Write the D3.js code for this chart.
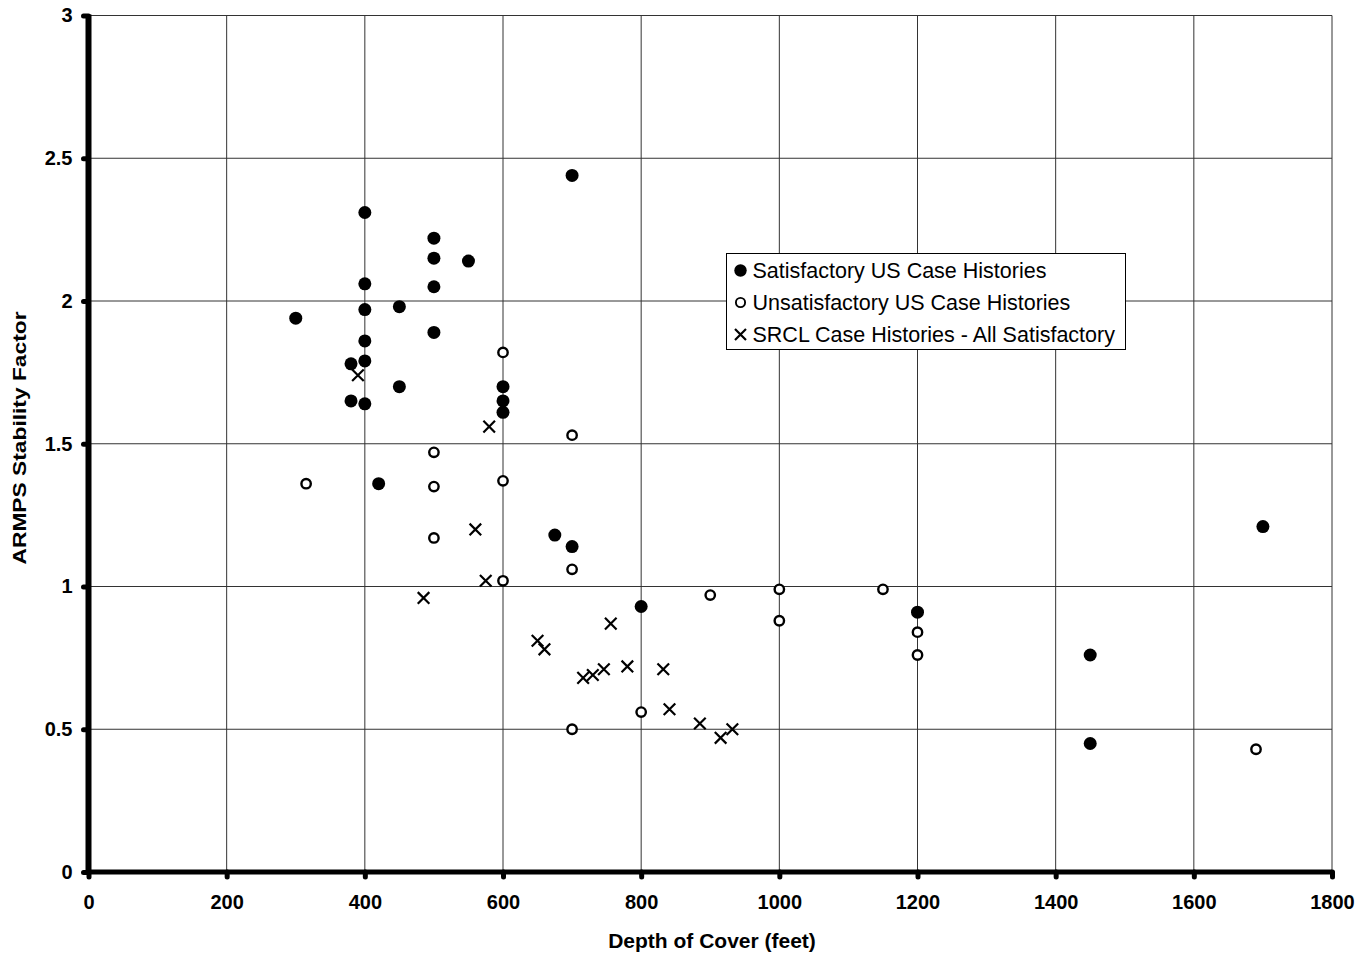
<!DOCTYPE html>
<html>
<head>
<meta charset="utf-8">
<script src="https://cdn.jsdelivr.net/npm/d3@7"></script>
<style>
  body { margin: 0; background: #fff; }
  text { font-family: "Liberation Sans", Arial, sans-serif; }
</style>
</head>
<body>
<script>
// depth of cover (ft) and ARMPS stability factor
const satDepth = [300, 380, 380, 400, 400, 400, 400, 400, 400, 420, 450, 450, 500, 500, 500, 500, 550, 600, 600, 600, 675, 700, 700, 800, 1200, 1450, 1450, 1700]
const satSF = [1.94, 1.78, 1.65, 2.31, 2.06, 1.97, 1.86, 1.79, 1.64, 1.36, 1.98, 1.70, 2.22, 2.15, 2.05, 1.89, 2.14, 1.70, 1.65, 1.61, 1.18, 2.44, 1.14, 0.93, 0.91, 0.76, 0.45, 1.21]

const unsatDepth = [315, 500, 500, 500, 600, 600, 600, 700, 700, 700, 800, 900, 1000, 1000, 1150, 1200, 1200, 1690]
const unsatSF = [1.36, 1.47, 1.35, 1.17, 1.82, 1.37, 1.02, 1.53, 1.06, 0.50, 0.56, 0.97, 0.99, 0.88, 0.99, 0.84, 0.76, 0.43]

const srclDepth = [390, 485, 560, 575, 580, 650, 660, 716, 730, 746, 756, 780, 832, 841, 885, 915, 932]
const srclSF = [1.74, 0.96, 1.20, 1.02, 1.56, 0.81, 0.78, 0.68, 0.69, 0.71, 0.87, 0.72, 0.71, 0.57, 0.52, 0.47, 0.50]

const xTicks = [0, 200, 400, 600, 800, 1000, 1200, 1400, 1600, 1800]
const yTicks = [0, 0.5, 1, 1.5, 2, 2.5, 3]
const legendLabels = ['Satisfactory US Case Histories', 'Unsatisfactory US Case Histories', 'SRCL Case Histories - All Satisfactory']

const width = 1369
const height = 957
const margin = { left: 88.5, right: 37, top: 15.5, bottom: 85 }

const svg = d3.select('body').append('svg')
  .attr('width', width)
  .attr('height', height)

const x = d3.scaleLinear().domain([0, 1800]).range([margin.left, width - margin.right])
const y = d3.scaleLinear().domain([0, 3]).range([height - margin.bottom, margin.top])

// grid
svg.append('g')
  .selectAll('line')
  .data(xTicks.slice(1))
  .join('line')
    .attr('x1', d => x(d)).attr('x2', d => x(d))
    .attr('y1', y(0)).attr('y2', y(3))
    .style('stroke', '#333')
    .style('stroke-width', 1)

svg.append('g')
  .selectAll('line')
  .data(yTicks.slice(1))
  .join('line')
    .attr('x1', x(0)).attr('x2', x(1800))
    .attr('y1', d => y(d)).attr('y2', d => y(d))
    .style('stroke', '#333')
    .style('stroke-width', 1)

// axes
const xAxis = svg.append('g')
  .attr('transform', `translate(0, ${y(0)})`)
  .call(d3.axisBottom(x).tickValues(xTicks).tickSize(5).tickPadding(18).tickFormat(d3.format('d')))
xAxis.select('.domain').remove()
xAxis.selectAll('line').style('stroke', '#000').style('stroke-width', 5).style('stroke-linecap', 'round')
xAxis.selectAll('text')
  .style('font-size', '20px').style('font-weight', 'bold').style('fill', '#000')

const yAxis = svg.append('g')
  .attr('transform', `translate(${x(0)}, 0)`)
  .call(d3.axisLeft(y).tickValues(yTicks).tickSize(5).tickPadding(11).tickFormat(d => d))
yAxis.select('.domain').remove()
yAxis.selectAll('line').style('stroke', '#000').style('stroke-width', 5).style('stroke-linecap', 'round')
yAxis.selectAll('text')
  .style('font-size', '20px').style('font-weight', 'bold').style('fill', '#000')

svg.append('line')
  .attr('x1', x(0)).attr('x2', x(1800))
  .attr('y1', y(0)).attr('y2', y(0))
  .style('stroke', '#000').style('stroke-width', 5)
svg.append('line')
  .attr('x1', x(0)).attr('x2', x(0))
  .attr('y1', y(0) + 2).attr('y2', y(3) - 1)
  .style('stroke', '#000').style('stroke-width', 6)

// axis titles
svg.append('text')
  .attr('x', 712)
  .attr('y', 948)
  .attr('text-anchor', 'middle')
  .style('font-size', '21px').style('font-weight', 'bold')
  .text('Depth of Cover (feet)')

svg.append('text')
  .attr('transform', 'translate(25.5, 438) rotate(-90)')
  .attr('text-anchor', 'middle')
  .attr('textLength', 253)
  .attr('lengthAdjust', 'spacingAndGlyphs')
  .style('font-size', '19px').style('font-weight', 'bold')
  .text('ARMPS Stability Factor')

// markers
const cross = (g, size) => g.append('path')
  .attr('d', `M${-size},${-size}L${size},${size}M${-size},${size}L${size},${-size}`)
  .style('stroke', '#000').style('stroke-width', 2.2).style('fill', 'none')

svg.append('g')
  .selectAll('circle')
  .data(unsatDepth.map((d, i) => [d, unsatSF[i]]))
  .join('circle')
    .attr('cx', d => x(d[0]))
    .attr('cy', d => y(d[1]))
    .attr('r', 4.7)
    .style('fill', '#fff').style('stroke', '#000').style('stroke-width', 2.4)

svg.append('g')
  .selectAll('circle')
  .data(satDepth.map((d, i) => [d, satSF[i]]))
  .join('circle')
    .attr('cx', d => x(d[0]))
    .attr('cy', d => y(d[1]))
    .attr('r', 6.5)
    .style('fill', '#000')

svg.append('g')
  .selectAll('g')
  .data(srclDepth.map((d, i) => [d, srclSF[i]]))
  .join('g')
    .attr('transform', d => `translate(${x(d[0])}, ${y(d[1])})`)
    .each(function () { cross(d3.select(this), 5.8) })

// legend
const legend = svg.append('g').attr('transform', 'translate(726.5, 253.5)')
legend.append('rect')
  .attr('width', 399).attr('height', 96)
  .style('fill', '#fff').style('stroke', '#000').style('stroke-width', 1)

const rows = legend.selectAll('g')
  .data(legendLabels)
  .join('g')
    .attr('transform', (d, i) => `translate(0, ${17 + i * 32})`)

rows.append('text')
  .attr('x', 26).attr('y', 7.5)
  .style('font-size', '21.5px')
  .text(d => d)

rows.filter((d, i) => i === 0).append('circle')
  .attr('cx', 14).attr('r', 6.2).style('fill', '#000')
rows.filter((d, i) => i === 1).append('circle')
  .attr('cx', 14).attr('r', 4.6).style('fill', '#fff').style('stroke', '#000').style('stroke-width', 1.9)
rows.filter((d, i) => i === 2).append('g')
  .attr('transform', 'translate(14, 0)')
  .each(function () { cross(d3.select(this), 5.5) })
</script>
</body>
</html>
